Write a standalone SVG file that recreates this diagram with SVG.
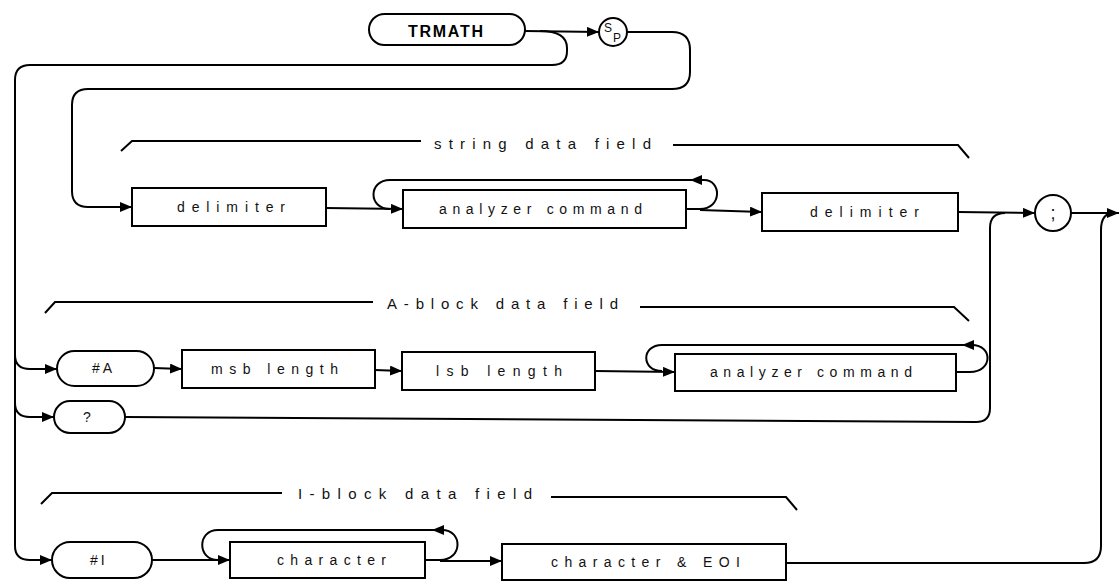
<svg xmlns="http://www.w3.org/2000/svg" width="1120" height="583" viewBox="0 0 1120 583">
<defs>
<marker id="ah" viewBox="0 0 12 10" refX="12" refY="5" markerWidth="12" markerHeight="10" markerUnits="userSpaceOnUse" orient="auto">
<path d="M0,0 L12,5 L0,10 z" fill="#000"/>
</marker>
<style>
.n{fill:#fff;stroke:#000;stroke-width:2}
.c{fill:none;stroke:#000;stroke-width:2}
.a{marker-end:url(#ah)}
.t{font-family:"Liberation Sans",Arial,sans-serif;font-size:14px;fill:#111;text-anchor:start}
.m{font-family:"Liberation Sans",Arial,sans-serif;font-size:14px;fill:#111;text-anchor:middle}
.b{font-family:"Liberation Sans",Arial,sans-serif;font-size:16px;font-weight:bold;fill:#000}
.f{font-family:"Liberation Sans",Arial,sans-serif;font-size:15px;fill:#111}
</style>
</defs>
<rect width="1120" height="583" fill="#fff"/>

<g id="connectors">
<path class="c a" d="M525,31 L599,32"/>
<path class="c" d="M540,31 Q567,31 567,48 L567,51 Q567,65 552,65 L30,65 Q15,65 15,80 L15,546 Q15,560 30,560 L52,560" marker-end="url(#ah)"/>
<path class="c a" d="M15,355 Q15,369 30,369 L57,369"/>
<path class="c a" d="M15,403 Q15,417 30,417 L54,417"/>
<path class="c a" d="M627,32 L672,32 Q690,32 690,50 L690,72 Q690,89 672,89 L88,89 Q72,89 72,105 L72,191 Q72,207 88,207 L132,207"/>
<path class="c a" d="M326,208 L403,209"/>
<path class="c a" d="M686,209 L700,209 C722,209 722,180 704,180 L690,180"/>
<path class="c" d="M690,180 L390,180 C368,180 368,209 390,209"/>
<path class="c a" d="M700,210 L762,212"/>
<path class="c a" d="M958,212 L1035,213"/>
<path class="c a" d="M1071,213 L1119,213"/>
<path class="c" d="M125,417 L976,422 Q990,422 990,408 L990,228 Q990,213 1005,213"/>
<path class="c a" d="M956,372 L970,372 C993,372 993,345 972,345 L962,345"/>
<path class="c" d="M962,345 L662,345 C641,345 641,371 662,371"/>
<path class="c a" d="M154,368 L182,369"/>
<path class="c a" d="M375,370 L402,371"/>
<path class="c a" d="M595,371 L675,372"/>
<path class="c a" d="M152,560 L230,560"/>
<path class="c a" d="M425,560 L440,560 C463,560 463,530 442,530 L432,530"/>
<path class="c" d="M432,530 L218,530 C197,530 197,560 218,560"/>
<path class="c a" d="M440,561 L502,561"/>
<path class="c" d="M786,563 L1084,563 Q1101,563 1101,546 L1101,230 Q1101,213 1114,213"/>
</g>

<g id="brackets">
<path class="c" d="M121,151 L132,141 L421,141"/>
<path class="c" d="M673,145 L958,145 L969,158"/>
<text class="f" x="434" y="149" textLength="217" lengthAdjust="spacing">string data field</text>
<path class="c" d="M45,313 L55,302 L373,302"/>
<path class="c" d="M640,307 L954,307 L969,321"/>
<text class="f" x="387" y="309" textLength="231" lengthAdjust="spacing">A-block data field</text>
<path class="c" d="M41,504 L52,493 L282,493"/>
<path class="c" d="M551,497 L786,497 L797,510"/>
<text class="f" x="298" y="499" textLength="234" lengthAdjust="spacing">I-block data field</text>
</g>

<g id="n-trmath">
<rect class="n" x="369" y="14" width="156" height="31" rx="15.5"/>
<text class="b" x="408" y="37" textLength="75" lengthAdjust="spacing">TRMATH</text>
</g>
<g id="n-sp">
<circle class="n" cx="613" cy="32" r="14"/>
<text class="t" x="604" y="32" style="font-size:12px">S</text>
<text class="t" x="613" y="42" style="font-size:12px">P</text>
</g>
<g id="n-delim1">
<rect class="n" x="132" y="188" width="194" height="38"/>
<text class="t" x="177" y="212" textLength="108" lengthAdjust="spacing">delimiter</text>
</g>
<g id="n-analyzer1">
<rect class="n" x="403" y="190" width="283" height="38"/>
<text class="t" x="439" y="214" textLength="203" lengthAdjust="spacing">analyzer command</text>
</g>
<g id="n-delim2">
<rect class="n" x="762" y="193" width="196" height="38"/>
<text class="t" x="810" y="217" textLength="109" lengthAdjust="spacing">delimiter</text>
</g>
<g id="n-semicolon">
<circle class="n" cx="1053" cy="213" r="18"/>
<text class="m" x="1053" y="219" style="font-size:18px">;</text>
</g>
<g id="n-hashA">
<rect class="n" x="57" y="351" width="97" height="35" rx="17.5"/>
<text class="t" x="92" y="373" style="letter-spacing:3px">#A</text>
</g>
<g id="n-msb">
<rect class="n" x="182" y="350" width="193" height="38"/>
<text class="t" x="211" y="374" textLength="127" lengthAdjust="spacing">msb length</text>
</g>
<g id="n-lsb">
<rect class="n" x="402" y="352" width="193" height="38"/>
<text class="t" x="436" y="376" textLength="126" lengthAdjust="spacing">lsb length</text>
</g>
<g id="n-analyzerA">
<rect class="n" x="675" y="354" width="281" height="37"/>
<text class="t" x="710" y="377" textLength="202" lengthAdjust="spacing">analyzer command</text>
</g>
<g id="n-query">
<rect class="n" x="54" y="401" width="71" height="32" rx="16"/>
<text class="m" x="87" y="422">?</text>
</g>
<g id="n-hashI">
<rect class="n" x="52" y="542" width="100" height="36" rx="18"/>
<text class="t" x="90" y="565" style="letter-spacing:3px">#I</text>
</g>
<g id="n-character">
<rect class="n" x="230" y="542" width="195" height="36"/>
<text class="t" x="277" y="565" textLength="109" lengthAdjust="spacing">character</text>
</g>
<g id="n-charEOI">
<rect class="n" x="502" y="544" width="284" height="36"/>
<text class="t" x="551" y="567" textLength="189" lengthAdjust="spacing">character &amp; EOI</text>
</g>
</svg>
